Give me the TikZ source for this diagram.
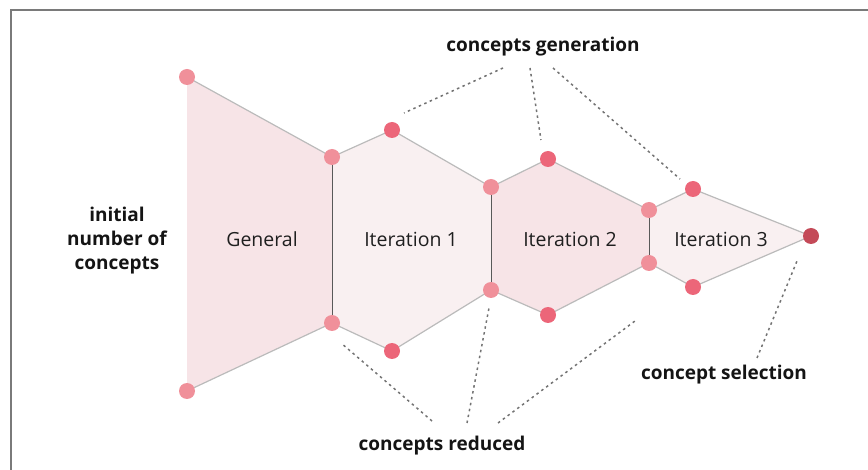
\documentclass[tikz,border=0pt]{standalone}
\usepackage{fontspec}
\setmainfont{Open Sans}
\definecolor{dotlight}{HTML}{F0909A}
\definecolor{dotmid}{HTML}{EC6679}
\definecolor{dotdark}{HTML}{C44A58}
\definecolor{fillA}{HTML}{F7E4E7}
\definecolor{fillB}{HTML}{F9F0F1}
\definecolor{edgegray}{HTML}{BBBBBB}
\definecolor{framegray}{HTML}{7A7A7A}
\begin{document}
\begin{tikzpicture}[x=1pt,y=-1pt,
  dot/.style={circle,inner sep=0pt,minimum size=16pt,fill=#1},
  outline/.style={draw=edgegray,line width=1.2pt},
  divider/.style={draw=black!65,line width=1pt},
  leader/.style={draw=black!55,line width=1.5pt,dash pattern=on 2.5pt off 3.5pt},
  lbl/.style={font=\fontsize{19}{24}\selectfont\bfseries,text=black!92,align=center},
  seg/.style={font=\fontsize{19.5}{22}\selectfont,text=black!88}]
\useasboundingbox (0,0) rectangle (868,470);
\draw[framegray,line width=1.5pt] (11,470) -- (11,10) -- (868,10);
% coordinates
\coordinate (a1) at (187,77);
\coordinate (a2) at (187,391);
\coordinate (b1) at (332,157);
\coordinate (b2) at (332,323);
\coordinate (p1) at (392,130);
\coordinate (q1) at (392,351);
\coordinate (c1) at (491,187);
\coordinate (c2) at (491,290);
\coordinate (p2) at (548,159);
\coordinate (q2) at (548,315);
\coordinate (d1) at (649,210);
\coordinate (d2) at (649,263);
\coordinate (p3) at (693,189);
\coordinate (q3) at (693,287);
\coordinate (e) at (811,236);
% fills
\fill[fillA] (a1) -- (b1) -- (b2) -- (a2) -- cycle;
\fill[fillB] (b1) -- (p1) -- (c1) -- (c2) -- (q1) -- (b2) -- cycle;
\fill[fillA] (c1) -- (p2) -- (d1) -- (d2) -- (q2) -- (c2) -- cycle;
\fill[fillB] (d1) -- (p3) -- (e) -- (q3) -- (d2) -- cycle;
% outlines
\draw[outline] (a1) -- (b1) -- (p1) -- (c1) -- (p2) -- (d1) -- (p3) -- (e);
\draw[outline] (a2) -- (b2) -- (q1) -- (c2) -- (q2) -- (d2) -- (q3) -- (e);
\draw[divider] (b1) -- (b2);
\draw[divider] (c1) -- (c2);
\draw[divider] (d1) -- (d2);
% dots
\node[dot=dotlight] (na1) at (a1) {};
\node[dot=dotlight] (na2) at (a2) {};
\node[dot=dotlight] (nb1) at (b1) {};
\node[dot=dotlight] (nb2) at (b2) {};
\node[dot=dotmid] (np1) at (p1) {};
\node[dot=dotmid] (nq1) at (q1) {};
\node[dot=dotlight] (nc1) at (c1) {};
\node[dot=dotlight] (nc2) at (c2) {};
\node[dot=dotmid] (np2) at (p2) {};
\node[dot=dotmid] (nq2) at (q2) {};
\node[dot=dotlight] (nd1) at (d1) {};
\node[dot=dotlight] (nd2) at (d2) {};
\node[dot=dotmid] (np3) at (p3) {};
\node[dot=dotmid] (nq3) at (q3) {};
\node[dot=dotdark] (ne) at (e) {};
% segment labels
\node[seg] (tg) at (262,239) {General};
\node[seg] (t1) at (411,239) {Iteration 1};
\node[seg] (t2) at (570,239) {Iteration 2};
\node[seg] (t3) at (721,239) {Iteration 3};
% annotations
\node[lbl] (gen) at (543,47) {concepts generation};
\node[lbl] (init) at (117,241) {initial\\number of\\concepts};
\node[lbl] (sel) at (724,375) {concept selection};
\node[lbl] (red) at (442,446) {concepts reduced};
% leaders
\coordinate (g1s) at (503,68); \coordinate (g1e) at (404,113);
\coordinate (g2s) at (530,68); \coordinate (g2e) at (541,140);
\coordinate (g3s) at (553,68); \coordinate (g3e) at (680,179);
\draw[leader] (g1s) -- (g1e);
\draw[leader] (g2s) -- (g2e);
\draw[leader] (g3s) -- (g3e);
\coordinate (s1s) at (757,358); \coordinate (s1e) at (797,261);
\draw[leader] (s1s) -- (s1e);
\coordinate (r1s) at (432,421); \coordinate (r1e) at (341,343);
\coordinate (r2s) at (467,423); \coordinate (r2e) at (489,308);
\coordinate (r3s) at (498,423); \coordinate (r3e) at (635,321);
\draw[leader] (r1s) -- (r1e);
\draw[leader] (r2s) -- (r2e);
\draw[leader] (r3s) -- (r3e);
\end{tikzpicture}
\end{document}
